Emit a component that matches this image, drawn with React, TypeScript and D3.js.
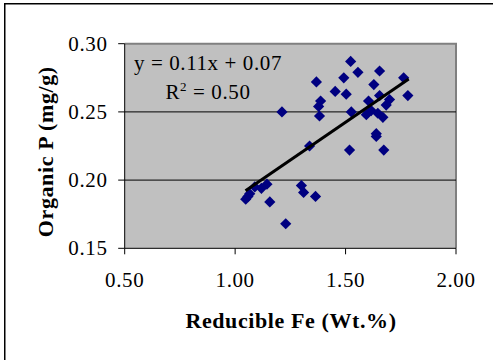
import React from "react";
import * as d3 from "d3";

const feValues = [1.048, 1.058, 1.066, 1.089, 1.119, 1.144, 1.157, 1.229, 1.212, 1.300, 1.310, 1.364, 1.337, 1.368, 1.387, 1.378, 1.382, 1.453, 1.492, 1.503, 1.518, 1.526, 1.523, 1.556, 1.594, 1.604, 1.616, 1.628, 1.639, 1.639, 1.646, 1.654, 1.654, 1.669, 1.673, 1.684, 1.699, 1.763, 1.782];
const orgPValues = [0.186, 0.188, 0.190, 0.195, 0.194, 0.197, 0.184, 0.168, 0.250, 0.196, 0.191, 0.188, 0.225, 0.272, 0.258, 0.254, 0.247, 0.265, 0.275, 0.263, 0.222, 0.250, 0.287, 0.279, 0.248, 0.258, 0.251, 0.270, 0.232, 0.234, 0.249, 0.280, 0.262, 0.246, 0.222, 0.255, 0.259, 0.275, 0.262];
const trendX = [1.047, 1.786];
const trendY = [0.1922, 0.2741];
const xTicks = [0.5, 1.0, 1.5, 2.0];
const yTicks = [0.15, 0.2, 0.25, 0.3];
const gridTicks = [0.2, 0.25];

export default function App() {
  const L = 124.7, R = 456, T = 43.7, B = 248.3;
  const x = d3.scaleLinear().domain([0.5, 2.0]).range([L, R]);
  const y = d3.scaleLinear().domain([0.15, 0.3]).range([B, T]);
  const diamond = d3.symbol().type(d3.symbolDiamond2).size(80)();
  const line = d3.line<number>().x((_, i) => x(trendX[i])).y((d) => y(d));
  const serif = "'Times New Roman', 'Liberation Serif', Tinos, serif";
  return (
    <svg width={493} height={360} style={{ position: "absolute", left: 0, top: 0, background: "#fff" }} fontFamily={serif}>
      <rect x={4.75} y={3.75} width={600} height={600} fill="#fff" stroke="#000" strokeWidth={1.5} />
      <rect x={L} y={T} width={R - L} height={B - T} fill="#C0C0C0" />
      <path d={`M${L},${T}H${R}V${B}`} fill="none" stroke="#808080" strokeWidth={2} />
      {gridTicks.map((t) => (
        <line key={t} x1={L} x2={R} y1={y(t)} y2={y(t)} stroke="#000" strokeWidth={1} />
      ))}
      <line x1={L} x2={L} y1={T} y2={B} stroke="#000" strokeWidth={1} />
      <line x1={L} x2={R} y1={B} y2={B} stroke="#000" strokeWidth={1} />
      {yTicks.map((t) => (
        <g key={t}>
          <line x1={L - 6.5} x2={L} y1={y(t)} y2={y(t)} stroke="#000" />
          <text x={107.5} y={y(t) + 7} textAnchor="end" fontSize={21} letterSpacing={0.6}>{t.toFixed(2)}</text>
        </g>
      ))}
      {xTicks.map((t) => (
        <g key={t}>
          <line x1={x(t)} x2={x(t)} y1={B} y2={B + 6} stroke="#000" />
          <text x={x(t)} y={286.5} textAnchor="middle" fontSize={21} letterSpacing={0.6}>{t.toFixed(2)}</text>
        </g>
      ))}
      {feValues.map((v, i) => (
        <path key={i} d={diamond} transform={`translate(${x(v)},${y(orgPValues[i])})`} fill="#000080" />
      ))}
      <path d={line(trendY) || ""} fill="none" stroke="#000" strokeWidth={3} />
      <text x={208} y={69.5} textAnchor="middle" fontSize={21} letterSpacing={0.6}>y = 0.11x + 0.07</text>
      <text x={208} y={99.3} textAnchor="middle" fontSize={21} letterSpacing={0.6}>
        R<tspan fontSize={13} dy={-8}>2</tspan><tspan dy={8}> = 0.50</tspan>
      </text>
      <text x={291} y={328.3} textAnchor="middle" fontSize={22} fontWeight="bold" letterSpacing={0.6}>Reducible Fe (Wt.%)</text>
      <text transform={`translate(53.3,151.7) rotate(-90)`} textAnchor="middle" fontSize={22} fontWeight="bold" letterSpacing={0.6}>Organic P (mg/g)</text>
    </svg>
  );
}
